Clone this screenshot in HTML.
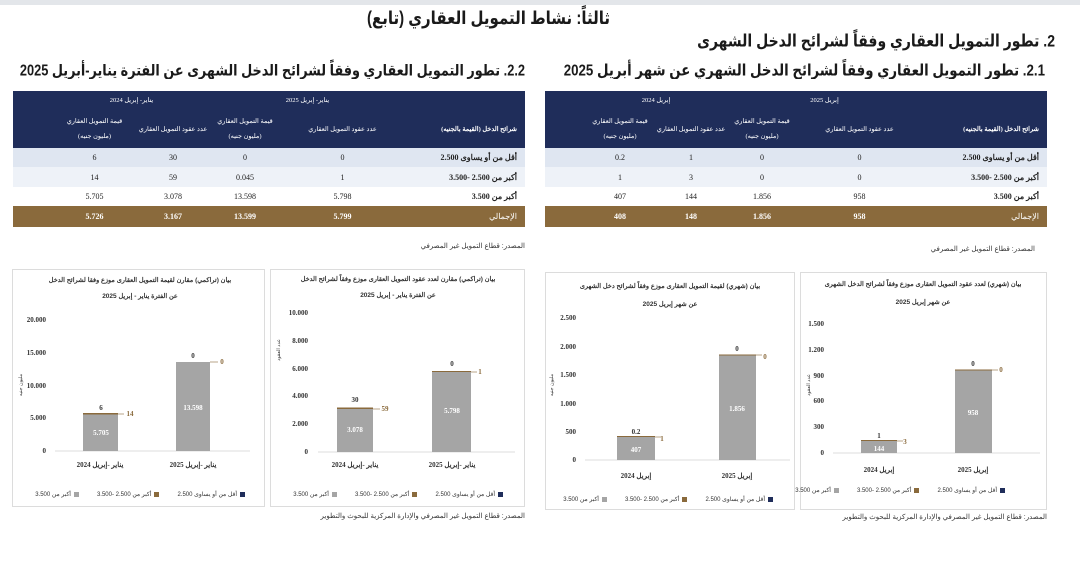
<!DOCTYPE html>
<html><head><meta charset="utf-8">
<style>
*{margin:0;padding:0;box-sizing:border-box}
body{width:1080px;height:578px;background:#fff;position:relative;overflow:hidden;font-family:"Liberation Serif","Noto Sans CJK SC",serif;}
.t{position:absolute;white-space:nowrap;direction:rtl;font-family:"Liberation Sans","DejaVu Sans",sans-serif;font-weight:bold;color:#1a1a1a;transform:scaleY(1.2);transform-origin:right top}
table{position:absolute;border-collapse:collapse;font-size:8px;direction:rtl;table-layout:fixed}
td{text-align:center;color:#222;padding:0}
.hd td{background:#1f2d5a;color:#fff;font-size:6.5px}
.r1 td{background:#dfe6f1}
.r2 td{background:#eef2f8}
.r3 td{background:#fff}
.tot td{background:#8a6a3c;color:#fff;font-weight:bold}
.lab{text-align:right!important;padding-right:8px!important;font-weight:bold}
.box{position:absolute;border:1px solid #dcdcdc}
.src{position:absolute;font-size:7px;color:#333;direction:rtl;white-space:nowrap;font-family:"Liberation Sans",sans-serif}
.lg{position:absolute;direction:rtl;white-space:nowrap;font-size:6px;color:#333;font-family:"Liberation Sans",sans-serif;display:flex;gap:18px}
.lg span i{display:inline-block;width:5px;height:5px;margin-left:3px;vertical-align:middle}
</style></head><body>
<div style="position:absolute;left:0;top:0;width:1080px;height:5px;background:#e3e6ea"></div>
<div class="t" style="right:470px;top:7px;font-size:15px">ثالثاً: نشاط التمويل العقاري (تابع)</div>
<div class="t" style="right:25px;top:31px;font-size:14px">2. تطور التمويل العقاري وفقاً لشرائح الدخل الشهرى</div>
<div class="t" style="right:35px;top:61px;font-size:13.3px">2.1. تطور التمويل العقاري وفقاً لشرائح  الدخل الشهري عن شهر أبريل 2025</div>
<div class="t" style="right:555px;top:61px;font-size:12.8px">2.2. تطور التمويل العقاري وفقاً لشرائح الدخل الشهرى عن الفترة يناير-أبريل 2025</div>

<table style="left:13px;top:91px;width:512px">
<colgroup><col style="width:120px"><col style="width:125px"><col style="width:70px"><col style="width:74px"><col style="width:83px"><col style="width:40px"></colgroup>
<tr class="hd" style="height:18px"><td></td><td colspan="2">يناير- إبريل 2025</td><td colspan="2">يناير- إبريل 2024</td><td></td></tr>
<tr class="hd" style="height:39px"><td class="lab">شرائح الدخل (القيمة بالجنيه)</td><td>عدد عقود التمويل العقاري</td><td>قيمة التمويل العقاري<br><br>(مليون جنيه)</td><td>عدد عقود التمويل العقاري</td><td>قيمة التمويل العقاري<br><br>(مليون جنيه)</td><td></td></tr>
<tr class="r1" style="height:19px"><td class="lab">أقل من أو يساوى 2.500</td><td>0</td><td>0</td><td>30</td><td>6</td><td></td></tr>
<tr class="r2" style="height:20px"><td class="lab">أكبر من 2.500 -3.500</td><td>1</td><td>0.045</td><td>59</td><td>14</td><td></td></tr>
<tr class="r3" style="height:19px"><td class="lab">أكبر من 3.500</td><td>5.798</td><td>13.598</td><td>3.078</td><td>5.705</td><td></td></tr>
<tr class="tot" style="height:21px"><td class="lab" style="font-weight:normal">الإجمالي</td><td>5.799</td><td>13.599</td><td>3.167</td><td>5.726</td><td></td></tr>
</table>

<table style="left:545px;top:91px;width:502px">
<colgroup><col style="width:125px"><col style="width:125px"><col style="width:70px"><col style="width:72px"><col style="width:70px"><col style="width:40px"></colgroup>
<tr class="hd" style="height:18px"><td></td><td colspan="2">إبريل 2025</td><td colspan="2">إبريل 2024</td><td></td></tr>
<tr class="hd" style="height:39px"><td class="lab">شرائح الدخل (القيمة بالجنيه)</td><td>عدد عقود التمويل العقاري</td><td>قيمة التمويل العقاري<br><br>(مليون جنيه)</td><td>عدد عقود التمويل العقاري</td><td>قيمة التمويل العقاري<br><br>(مليون جنيه)</td><td></td></tr>
<tr class="r1" style="height:19px"><td class="lab">أقل من أو يساوى 2.500</td><td>0</td><td>0</td><td>1</td><td>0.2</td><td></td></tr>
<tr class="r2" style="height:20px"><td class="lab">أكبر من 2.500 -3.500</td><td>0</td><td>0</td><td>3</td><td>1</td><td></td></tr>
<tr class="r3" style="height:19px"><td class="lab">أكبر من 3.500</td><td>958</td><td>1.856</td><td>144</td><td>407</td><td></td></tr>
<tr class="tot" style="height:21px"><td class="lab" style="font-weight:normal">الإجمالي</td><td>958</td><td>1.856</td><td>148</td><td>408</td><td></td></tr>
</table>

<div class="src" style="right:555px;top:242px">المصدر: قطاع التمويل غير المصرفي</div>
<div class="src" style="right:45px;top:245px">المصدر: قطاع التمويل غير المصرفي</div>

<div class="box" style="left:12px;top:269px;width:253px;height:238px"></div>
<div class="box" style="left:270px;top:269px;width:255px;height:238px"></div>
<div class="box" style="left:545px;top:272px;width:250px;height:238px"></div>
<div class="box" style="left:800px;top:272px;width:247px;height:238px"></div>

<svg style="position:absolute;left:0;top:0" width="1080" height="578" font-family="Liberation Serif, serif" font-size="7" font-weight="bold">
<g fill="#333" direction="rtl" text-anchor="middle" font-family="Liberation Sans, sans-serif" font-size="6.5">
<text x="140" y="282">بيان (تراكمي) مقارن لقيمة التمويل العقارى موزع وفقا لشرائح الدخل</text>
<text x="140" y="298">عن الفترة يناير - إبريل 2025</text>
<text x="398" y="281">بيان (تراكمي) مقارن لعدد عقود التمويل العقارى موزع وفقاً لشرائح الدخل</text>
<text x="398" y="297">عن الفترة يناير - إبريل 2025</text>
<text x="670" y="288">بيان (شهري) لقيمة التمويل العقارى موزع وفقاً لشرائح دخل الشهرى</text>
<text x="670" y="306">عن شهر إبريل 2025</text>
<text x="923" y="286">بيان (شهري) لعدد عقود التمويل العقارى موزع وفقاً لشرائح الدخل الشهرى</text>
<text x="923" y="304">عن شهر إبريل 2025</text>
</g>
<g fill="#333" text-anchor="end">
<text x="46" y="322">20.000</text><text x="46" y="355">15.000</text><text x="46" y="388">10.000</text><text x="46" y="420">5.000</text><text x="46" y="453">0</text>
</g>
<line x1="55" y1="451" x2="250" y2="451" stroke="#ddd"/>
<rect x="83" y="414" width="35" height="37" fill="#a5a5a5"/><rect x="83" y="413" width="35" height="1.5" fill="#8a6a3c"/>
<rect x="176" y="362" width="34" height="89" fill="#a5a5a5"/><line x1="210" y1="362" x2="218" y2="362" stroke="#8a6a3c" stroke-width=".6"/><line x1="118" y1="414" x2="124" y2="414" stroke="#8a6a3c" stroke-width=".6"/>
<g text-anchor="middle"><text x="101" y="410" fill="#333">6</text><text x="130" y="416" fill="#8a6a3c">14</text><text x="101" y="435" fill="#fff">5.705</text>
<text x="193" y="358" fill="#333">0</text><text x="222" y="364" fill="#8a6a3c">0</text><text x="193" y="410" fill="#fff">13.598</text>
<text x="100" y="467" fill="#333" direction="rtl">يناير -إبريل 2024</text><text x="193" y="467" fill="#333" direction="rtl">يناير -إبريل 2025</text></g>
<g fill="#333" text-anchor="end">
<text x="308" y="315">10.000</text><text x="308" y="343">8.000</text><text x="308" y="371">6.000</text><text x="308" y="398">4.000</text><text x="308" y="426">2.000</text><text x="308" y="454">0</text>
</g>
<line x1="318" y1="452" x2="515" y2="452" stroke="#ddd"/>
<rect x="337" y="409" width="36" height="43" fill="#a5a5a5"/><rect x="337" y="407.5" width="36" height="1.5" fill="#8a6a3c"/>
<rect x="432" y="372" width="39" height="80" fill="#a5a5a5"/><rect x="432" y="371" width="39" height="1" fill="#8a6a3c"/>
<line x1="373" y1="409" x2="380" y2="409" stroke="#8a6a3c" stroke-width=".6"/><line x1="471" y1="372" x2="477" y2="372" stroke="#8a6a3c" stroke-width=".6"/>
<g text-anchor="middle"><text x="355" y="402" fill="#333">30</text><text x="385" y="411" fill="#8a6a3c">59</text><text x="355" y="432" fill="#fff">3.078</text>
<text x="452" y="366" fill="#333">0</text><text x="480" y="374" fill="#8a6a3c">1</text><text x="452" y="413" fill="#fff">5.798</text>
<text x="355" y="467" fill="#333" direction="rtl">يناير -إبريل 2024</text><text x="452" y="467" fill="#333" direction="rtl">يناير -إبريل 2025</text></g>
<g fill="#333" text-anchor="end">
<text x="576" y="320">2.500</text><text x="576" y="349">2.000</text><text x="576" y="377">1.500</text><text x="576" y="406">1.000</text><text x="576" y="434">500</text><text x="576" y="462">0</text>
</g>
<line x1="585" y1="460" x2="790" y2="460" stroke="#ddd"/>
<rect x="617" y="437" width="38" height="23" fill="#a5a5a5"/><rect x="617" y="436" width="38" height="1" fill="#8a6a3c"/>
<rect x="719" y="355" width="37" height="105" fill="#a5a5a5"/><rect x="719" y="354.5" width="37" height="1" fill="#8a6a3c"/>
<line x1="655" y1="437" x2="661" y2="437" stroke="#8a6a3c" stroke-width=".6"/><line x1="756" y1="355" x2="762" y2="355" stroke="#8a6a3c" stroke-width=".6"/>
<g text-anchor="middle"><text x="636" y="434" fill="#333">0.2</text><text x="662" y="441" fill="#8a6a3c">1</text><text x="636" y="452" fill="#fff">407</text>
<text x="737" y="351" fill="#333">0</text><text x="765" y="359" fill="#8a6a3c">0</text><text x="737" y="411" fill="#fff">1.856</text>
<text x="636" y="478" fill="#333" direction="rtl">إبريل 2024</text><text x="737" y="478" fill="#333" direction="rtl">إبريل 2025</text></g>
<g fill="#333" text-anchor="end">
<text x="824" y="326">1.500</text><text x="824" y="352">1.200</text><text x="824" y="378">900</text><text x="824" y="403">600</text><text x="824" y="429">300</text><text x="824" y="455">0</text>
</g>
<line x1="833" y1="453" x2="1040" y2="453" stroke="#ddd"/>
<rect x="861" y="441" width="36" height="12" fill="#a5a5a5"/><rect x="861" y="440" width="36" height="1" fill="#8a6a3c"/>
<rect x="955" y="370" width="37" height="83" fill="#a5a5a5"/><rect x="955" y="369.5" width="37" height="1" fill="#8a6a3c"/>
<line x1="897" y1="441" x2="903" y2="441" stroke="#8a6a3c" stroke-width=".6"/><line x1="992" y1="370" x2="998" y2="370" stroke="#8a6a3c" stroke-width=".6"/>
<g text-anchor="middle"><text x="879" y="438" fill="#333">1</text><text x="905" y="444" fill="#8a6a3c">3</text><text x="879" y="451" fill="#fff">144</text>
<text x="973" y="366" fill="#333">0</text><text x="1001" y="372" fill="#8a6a3c">0</text><text x="973" y="415" fill="#fff">958</text>
<text x="879" y="472" fill="#333" direction="rtl">إبريل 2024</text><text x="973" y="472" fill="#333" direction="rtl">إبريل 2025</text></g>
<g font-size="5" fill="#333" font-family="Liberation Sans, sans-serif" font-weight="normal">
<text transform="translate(22,385) rotate(-90)" text-anchor="middle">مليون جنيه</text>
<text transform="translate(280,350) rotate(-90)" text-anchor="middle">عدد العقود</text>
<text transform="translate(553,385) rotate(-90)" text-anchor="middle">مليون جنيه</text>
<text transform="translate(810,385) rotate(-90)" text-anchor="middle">عدد العقود</text>
</g>
</svg>
<div class="lg" style="right:835px;top:491px"><span><i style="background:#1f2d5a"></i>أقل من أو يساوى 2.500</span><span><i style="background:#8a6a3c"></i>أكبر من 2.500 -3.500</span><span><i style="background:#a5a5a5"></i>أكبر من 3.500</span></div>
<div class="lg" style="right:577px;top:491px"><span><i style="background:#1f2d5a"></i>أقل من أو يساوى 2.500</span><span><i style="background:#8a6a3c"></i>أكبر من 2.500 -3.500</span><span><i style="background:#a5a5a5"></i>أكبر من 3.500</span></div>
<div class="lg" style="right:307px;top:496px"><span><i style="background:#1f2d5a"></i>أقل من أو يساوى 2.500</span><span><i style="background:#8a6a3c"></i>أكبر من 2.500 -3.500</span><span><i style="background:#a5a5a5"></i>أكبر من 3.500</span></div>
<div class="lg" style="right:75px;top:487px"><span><i style="background:#1f2d5a"></i>أقل من أو يساوى 2.500</span><span><i style="background:#8a6a3c"></i>أكبر من 2.500 -3.500</span><span><i style="background:#a5a5a5"></i>أكبر من 3.500</span></div>
<div class="src" style="right:555px;top:512px">المصدر: قطاع التمويل غير المصرفي والإدارة المركزية للبحوث والتطوير</div>
<div class="src" style="right:33px;top:513px">المصدر: قطاع التمويل غير المصرفي والإدارة المركزية للبحوث والتطوير</div>
</body></html>
